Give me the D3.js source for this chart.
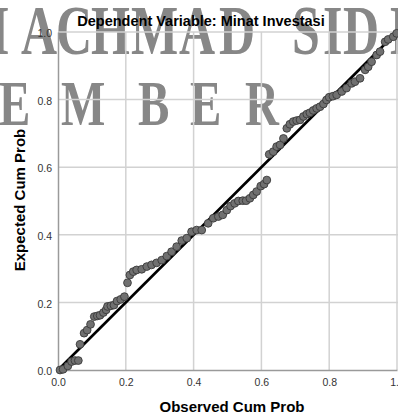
<!DOCTYPE html>
<html><head><meta charset="utf-8">
<script src="https://cdn.jsdelivr.net/npm/d3@7"></script>
<style>html,body{margin:0;padding:0;background:#fff;overflow:hidden}</style>
</head><body>
<svg id="c" width="398" height="414"></svg>
<script>
const title = "Dependent Variable: Minat Investasi";
const xTitle = "Observed Cum Prob";
const yTitle = "Expected Cum Prob";
const tickValues = [0, 0.2, 0.4, 0.6, 0.8, 1.0];
const tickLabels = ["0.0", "0.2", "0.4", "0.6", "0.8", "1.0"];
const observed = [0.006,0.015,0.029,0.040,0.050,0.060,0.065,0.077,0.086,0.096,0.107,0.116,0.124,0.134,0.142,0.146,0.156,0.165,0.174,0.185,0.196,0.205,0.212,0.222,0.232,0.247,0.262,0.276,0.291,0.306,0.321,0.335,0.350,0.365,0.380,0.394,0.409,0.424,0.443,0.458,0.473,0.486,0.498,0.509,0.521,0.532,0.545,0.555,0.566,0.576,0.586,0.598,0.608,0.616,0.623,0.635,0.645,0.655,0.665,0.675,0.684,0.694,0.704,0.714,0.724,0.734,0.743,0.753,0.763,0.773,0.783,0.792,0.800,0.811,0.822,0.837,0.851,0.866,0.876,0.891,0.906,0.915,0.925,0.940,0.950,0.965,0.974,0.989,0.999];
const expected = [0.000,0.002,0.012,0.025,0.028,0.028,0.076,0.109,0.118,0.135,0.158,0.160,0.162,0.170,0.178,0.188,0.190,0.192,0.204,0.209,0.217,0.258,0.281,0.291,0.296,0.298,0.306,0.311,0.317,0.325,0.337,0.350,0.365,0.383,0.390,0.409,0.414,0.414,0.434,0.449,0.454,0.459,0.473,0.485,0.493,0.500,0.501,0.501,0.508,0.518,0.528,0.544,0.550,0.562,0.638,0.646,0.661,0.666,0.685,0.715,0.727,0.735,0.738,0.740,0.750,0.757,0.761,0.768,0.774,0.779,0.787,0.799,0.807,0.810,0.814,0.824,0.834,0.848,0.853,0.863,0.888,0.897,0.912,0.932,0.942,0.971,0.978,0.986,0.996];
const watermarkTop = [["I",-10],["A",21],["C",56],["H",91],["M",131],["A",179],["D",219],["S",292],["I",323],["D",343],["D",390]];
const watermarkBottom = [["E",-1],["M",61],["B",138],["E",190],["R",245]];

const svg = d3.select("#c");
const x = d3.scaleLinear().domain([0,1]).range([58,397]);
const y = d3.scaleLinear().domain([0,1]).range([370,32]);

// watermark
const wm = svg.append("g").attr("fill","#878787").attr("font-family","'Liberation Serif','DejaVu Serif',serif").attr("font-weight","bold");
wm.selectAll("text.t").data(watermarkTop).join("text").attr("class","t")
  .attr("transform", d => `translate(${d[1]},54) scale(1,1.4)`)
  .attr("font-size",50).text(d => d[0]);
wm.selectAll("text.b").data(watermarkBottom).join("text").attr("class","b")
  .attr("transform", d => `translate(${d[1]},125) scale(1,1.33)`)
  .attr("font-size",47).text(d => d[0]);

// grid
const grid = svg.append("g").attr("stroke","#d2d2d2").attr("stroke-width",1.5);
grid.selectAll("line.v").data(tickValues.slice(1)).join("line").attr("class","v")
  .attr("x1",d=>x(d)).attr("x2",d=>x(d)).attr("y1",y(1)).attr("y2",y(0));
grid.selectAll("line.h").data(tickValues.slice(1)).join("line").attr("class","h")
  .attr("y1",d=>y(d)).attr("y2",d=>y(d)).attr("x1",x(0)).attr("x2",x(1)+2);

// axes
const xAxis = d3.axisBottom(x).tickValues(tickValues).tickFormat((d,i)=>tickLabels[i]).tickSize(0).tickPadding(9);
const yAxis = d3.axisLeft(y).tickValues(tickValues).tickFormat((d,i)=>tickLabels[i]).tickSize(0).tickPadding(6);
const gx = svg.append("g").attr("transform",`translate(0,${y(0)})`).call(xAxis);
const gy = svg.append("g").attr("transform",`translate(${x(0)},0)`).call(yAxis);
[gx,gy].forEach(g=>{
  g.select(".domain").attr("stroke","#9a9a9a").attr("stroke-width",1.5);
  g.selectAll("text").attr("font-family","Arial,'Liberation Sans',sans-serif").attr("font-size",10.5).attr("fill","#333");
});
gy.selectAll("text").attr("dy","0.45em");

// reference line
svg.append("line").attr("x1",x(0)).attr("y1",y(0)).attr("x2",x(1)).attr("y2",y(1))
  .attr("stroke","#000").attr("stroke-width",2.6);

// points
svg.append("g").selectAll("circle").data(observed.map((o,i)=>[o,expected[i]])).join("circle")
  .attr("cx",d=>x(d[0])).attr("cy",d=>y(d[1])).attr("r",3.9)
  .attr("fill","#707070").attr("stroke","#3a3a3a").attr("stroke-width",0.9);

// titles
svg.append("text").attr("x",201).attr("y",26).attr("text-anchor","middle")
  .attr("font-family","Arial,'Liberation Sans',sans-serif").attr("font-weight","bold").attr("font-size",14.5)
  .attr("fill","#000").text(title);
svg.append("text").attr("x",232).attr("y",412).attr("text-anchor","middle")
  .attr("font-family","Arial,'Liberation Sans',sans-serif").attr("font-weight","bold").attr("font-size",15)
  .attr("fill","#000").text(xTitle);
svg.append("text").attr("transform","translate(25,200) rotate(-90)").attr("text-anchor","middle")
  .attr("font-family","Arial,'Liberation Sans',sans-serif").attr("font-weight","bold").attr("font-size",15)
  .attr("fill","#000").text(yTitle);
</script>
</body></html>
